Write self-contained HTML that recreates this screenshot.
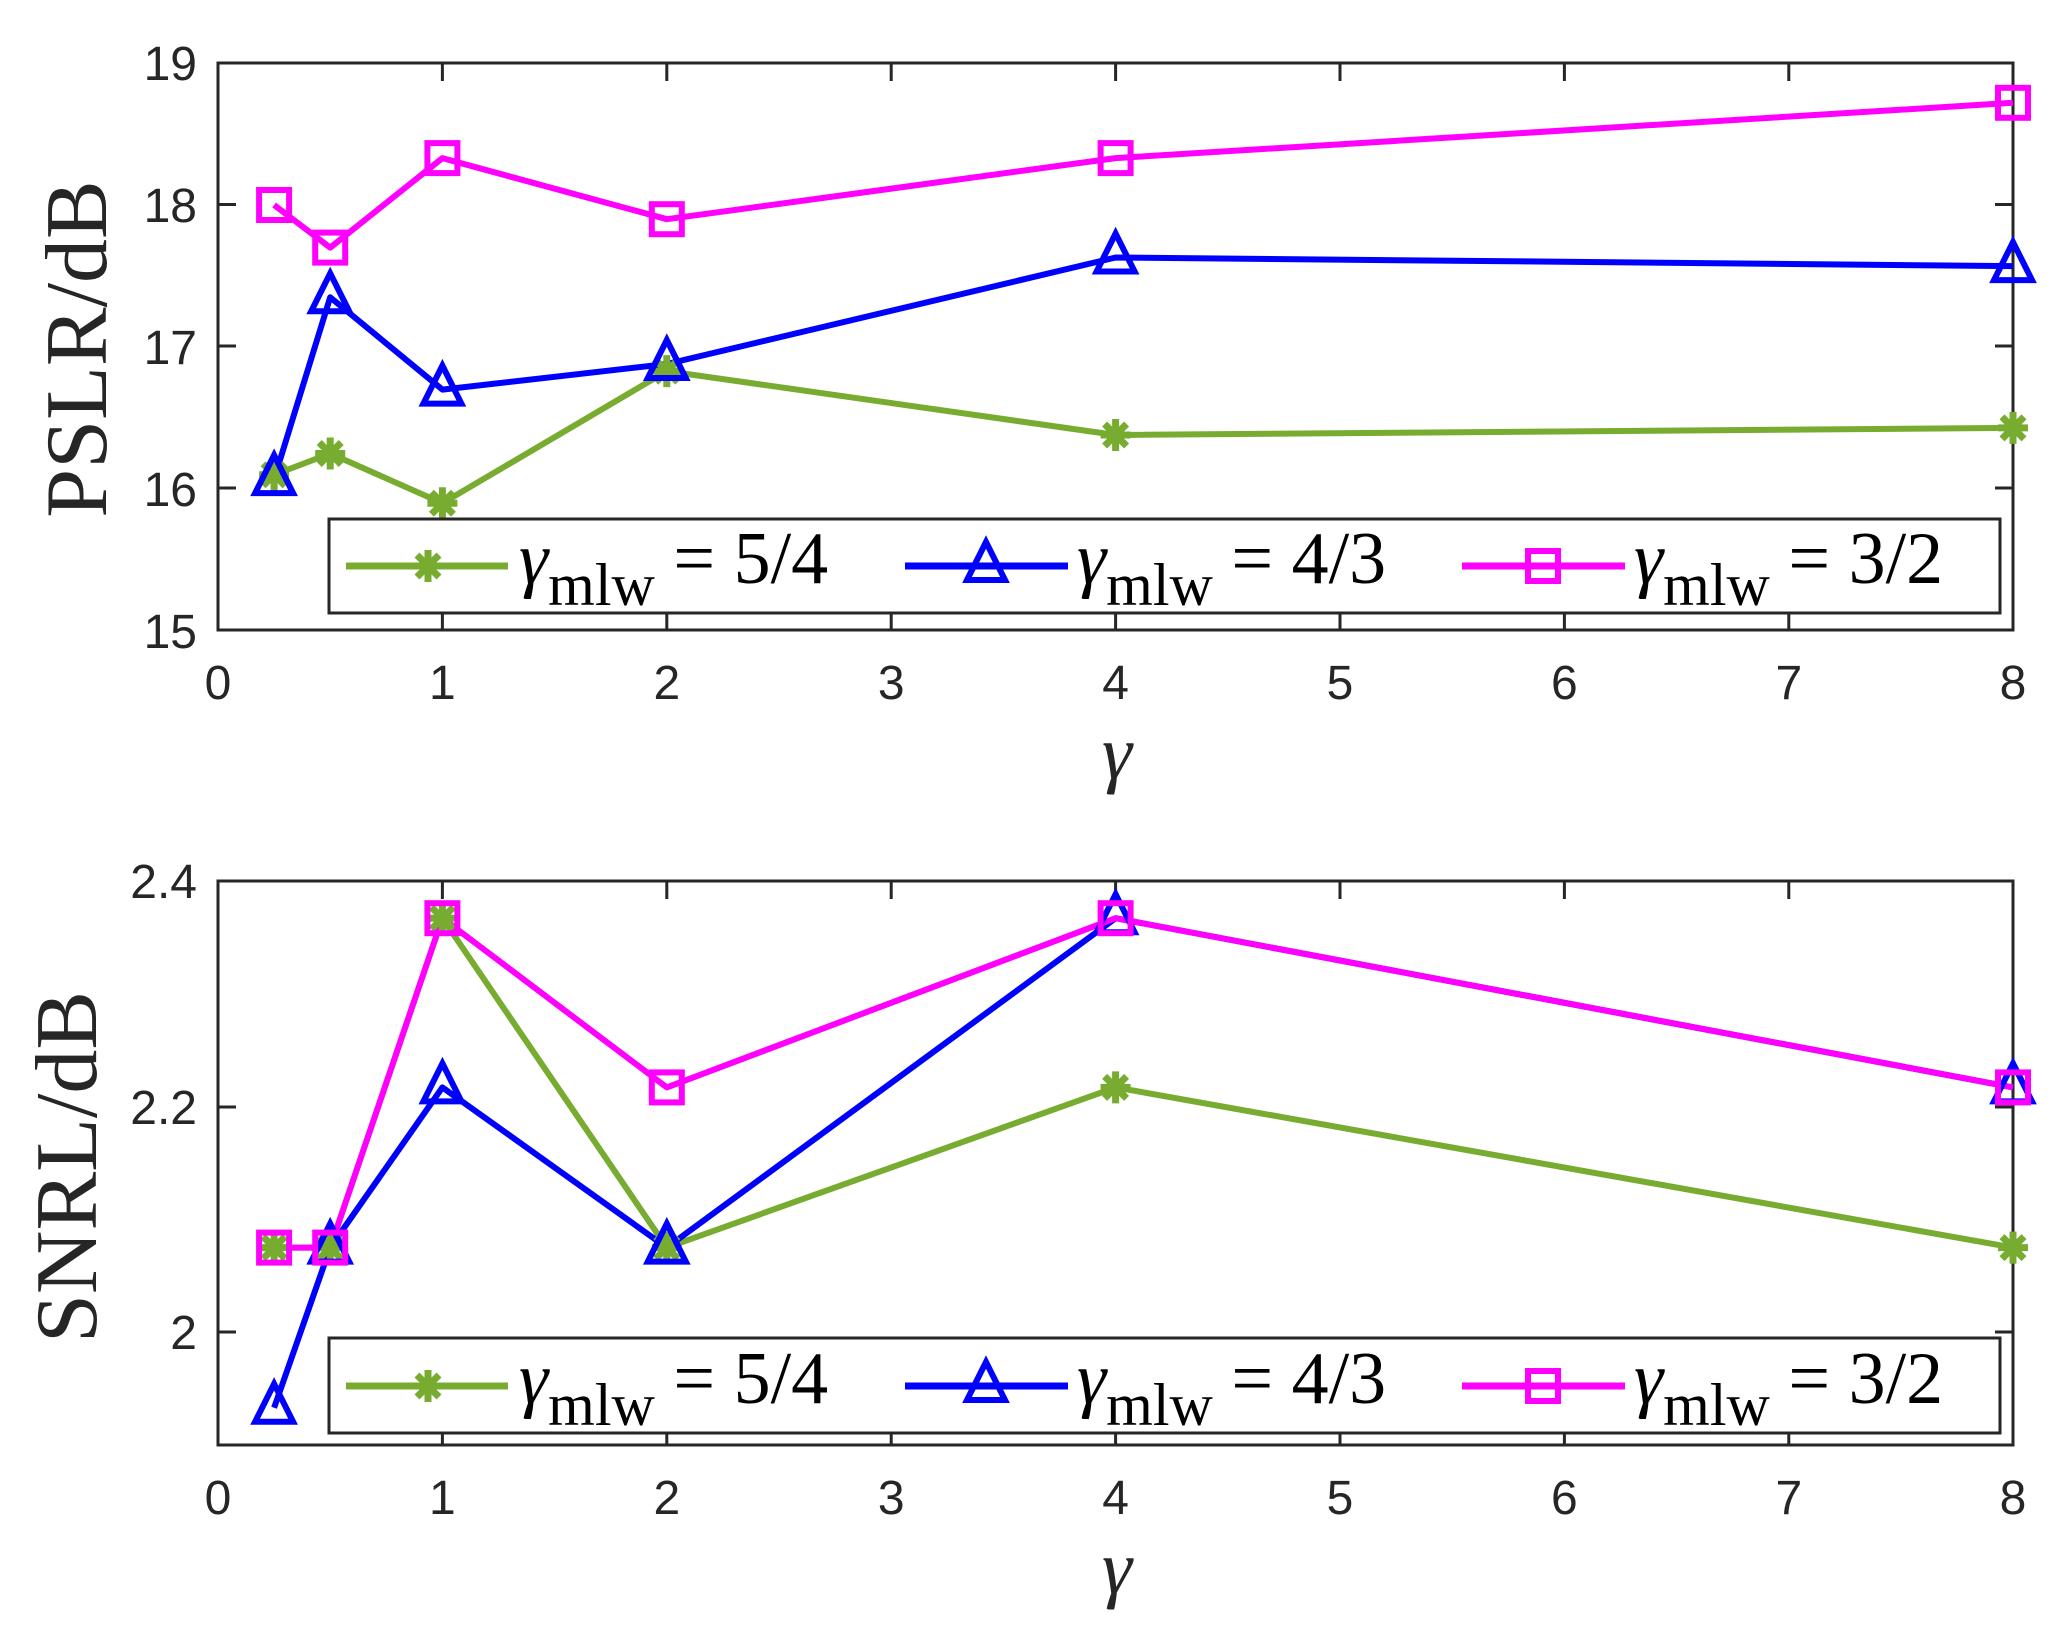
<!DOCTYPE html>
<html><head><meta charset="utf-8"><style>
html,body{margin:0;padding:0;background:#fff;}
svg{display:block;}
.tk{font-family:"Liberation Sans",sans-serif;font-size:48px;fill:#262626;}
.lab{font-family:"Liberation Serif",serif;fill:#262626;}
.lg{font-family:"Liberation Serif",serif;fill:#000;}
</style></head><body>
<svg width="2056" height="1635" viewBox="0 0 2056 1635" xmlns="http://www.w3.org/2000/svg">
<defs>
<g id="ast"><path d="M-15,0H15M0,-16V16M-11,-11L11,11M-11,11L11,-11" stroke="#77ac30" stroke-width="7" fill="none"/></g>
<g id="tri"><path d="M0,-24L19,14H-19Z" stroke="#0000ff" stroke-width="6" fill="none"/></g>
<g id="sq"><rect x="-15" y="-15" width="30" height="30" stroke="#ff00ff" stroke-width="6" fill="none"/></g>
</defs>

<!-- TOP AXES -->
<g stroke="#262626" stroke-width="3" fill="none">
<rect x="218" y="63" width="1795" height="567"/>
<path d="M442.4,630v-18M666.8,630v-18M891.2,630v-18M1115.6,630v-18M1340,630v-18M1564.4,630v-18M1788.8,630v-18
M442.4,63v18M666.8,63v18M891.2,63v18M1115.6,63v18M1340,63v18M1564.4,63v18M1788.8,63v18
M218,204.5h18M218,346h18M218,488h18M2013,204.5h-18M2013,346h-18M2013,488h-18"/>
</g>
<g class="tk" text-anchor="end">
<text x="197" y="80">19</text><text x="197" y="222">18</text><text x="197" y="364">17</text><text x="197" y="506">16</text><text x="197" y="648">15</text>
</g>
<g class="tk" text-anchor="middle">
<text x="218" y="699">0</text><text x="442.4" y="699">1</text><text x="666.8" y="699">2</text><text x="891.2" y="699">3</text><text x="1115.6" y="699">4</text><text x="1340" y="699">5</text><text x="1564.4" y="699">6</text><text x="1788.8" y="699">7</text><text x="2013" y="699">8</text>
</g>
<text class="lab" x="1117" y="778" font-size="76" font-style="italic" text-anchor="middle">γ</text>
<text class="lab" x="106" y="349" font-size="88" text-anchor="middle" transform="rotate(-90 106 349)">PSLR/dB</text>

<g fill="none" stroke-width="6" stroke-linejoin="round">
<polyline stroke="#77ac30" points="274.1,474.8 330.2,453.5 442.4,503.2 666.8,371.1 1115.6,435 2013,427.9"/>
<polyline stroke="#0000ff" points="274.1,479.1 330.2,297.3 442.4,389.6 666.8,364 1115.6,257.5 2013,266.1"/>
<polyline stroke="#ff00ff" points="274.1,205 330.2,247.6 442.4,158.1 666.8,219.2 1115.6,158.1 2013,102.8"/>
</g>
<use href="#ast" x="274.1" y="474.8"/><use href="#ast" x="330.2" y="453.5"/><use href="#ast" x="442.4" y="503.2"/><use href="#ast" x="666.8" y="371.1"/><use href="#ast" x="1115.6" y="435"/><use href="#ast" x="2013" y="427.9"/>
<use href="#tri" x="274.1" y="479.1"/><use href="#tri" x="330.2" y="297.3"/><use href="#tri" x="442.4" y="389.6"/><use href="#tri" x="666.8" y="364"/><use href="#tri" x="1115.6" y="257.5"/><use href="#tri" x="2013" y="266.1"/>
<use href="#sq" x="274.1" y="205"/><use href="#sq" x="330.2" y="247.6"/><use href="#sq" x="442.4" y="158.1"/><use href="#sq" x="666.8" y="219.2"/><use href="#sq" x="1115.6" y="158.1"/><use href="#sq" x="2013" y="102.8"/>

<!-- top legend -->
<rect x="329" y="519" width="1671" height="94" fill="#fff" stroke="#262626" stroke-width="3"/>
<path d="M346,566H508" stroke="#77ac30" stroke-width="7"/><use href="#ast" x="428" y="566"/>
<path d="M905,566H1068" stroke="#0000ff" stroke-width="7"/><use href="#tri" x="986" y="566"/>
<path d="M1462,566H1625" stroke="#ff00ff" stroke-width="7"/><use href="#sq" x="1543" y="566"/>
<text class="lg" x="519" y="583" font-size="74"><tspan font-style="italic">γ</tspan><tspan font-size="60" dy="22">mlw</tspan><tspan dy="-22"> = 5/4</tspan></text>
<text class="lg" x="1077" y="583" font-size="74"><tspan font-style="italic">γ</tspan><tspan font-size="60" dy="22">mlw</tspan><tspan dy="-22"> = 4/3</tspan></text>
<text class="lg" x="1634" y="583" font-size="74"><tspan font-style="italic">γ</tspan><tspan font-size="60" dy="22">mlw</tspan><tspan dy="-22"> = 3/2</tspan></text>

<!-- BOTTOM AXES -->
<g stroke="#262626" stroke-width="3" fill="none">
<rect x="218" y="881" width="1795" height="564"/>
<path d="M442.4,1445v-18M666.8,1445v-18M891.2,1445v-18M1115.6,1445v-18M1340,1445v-18M1564.4,1445v-18M1788.8,1445v-18
M442.4,881v18M666.8,881v18M891.2,881v18M1115.6,881v18M1340,881v18M1564.4,881v18M1788.8,881v18
M218,1107h18M218,1332h18M2013,1107h-18M2013,1332h-18"/>
</g>
<g class="tk" text-anchor="end">
<text x="197" y="898">2.4</text><text x="197" y="1124">2.2</text><text x="197" y="1349">2</text>
</g>
<g class="tk" text-anchor="middle">
<text x="218" y="1514">0</text><text x="442.4" y="1514">1</text><text x="666.8" y="1514">2</text><text x="891.2" y="1514">3</text><text x="1115.6" y="1514">4</text><text x="1340" y="1514">5</text><text x="1564.4" y="1514">6</text><text x="1788.8" y="1514">7</text><text x="2013" y="1514">8</text>
</g>
<text class="lab" x="1117" y="1593" font-size="76" font-style="italic" text-anchor="middle">γ</text>
<text class="lab" x="96" y="1167" font-size="88" text-anchor="middle" transform="rotate(-90 96 1167)">SNRL/dB</text>

<g fill="none" stroke-width="6" stroke-linejoin="round">
<polyline stroke="#77ac30" points="274.1,1247.6 330.2,1247.6 442.4,918.2 666.8,1247.6 1115.6,1087.4 2013,1247.6"/>
<polyline stroke="#0000ff" points="274.1,1407.8 330.2,1247.6 442.4,1087.4 666.8,1247.6 1115.6,918.2 2013,1087.4"/>
<polyline stroke="#ff00ff" points="274.1,1247.6 330.2,1247.6 442.4,918.2 666.8,1087.4 1115.6,918.2 2013,1087.4"/>
</g>
<use href="#ast" x="274.1" y="1247.6"/><use href="#ast" x="330.2" y="1247.6"/><use href="#ast" x="442.4" y="918.2"/><use href="#ast" x="666.8" y="1247.6"/><use href="#ast" x="1115.6" y="1087.4"/><use href="#ast" x="2013" y="1247.6"/>
<use href="#tri" x="274.1" y="1407.8"/><use href="#tri" x="330.2" y="1247.6"/><use href="#tri" x="442.4" y="1087.4"/><use href="#tri" x="666.8" y="1247.6"/><use href="#tri" x="1115.6" y="918.2"/><use href="#tri" x="2013" y="1087.4"/>
<use href="#sq" x="274.1" y="1247.6"/><use href="#sq" x="330.2" y="1247.6"/><use href="#sq" x="442.4" y="918.2"/><use href="#sq" x="666.8" y="1087.4"/><use href="#sq" x="1115.6" y="918.2"/><use href="#sq" x="2013" y="1087.4"/>

<!-- bottom legend -->
<rect x="329" y="1338" width="1671" height="95" fill="#fff" stroke="#262626" stroke-width="3"/>
<path d="M346,1386H508" stroke="#77ac30" stroke-width="7"/><use href="#ast" x="428" y="1386"/>
<path d="M905,1386H1068" stroke="#0000ff" stroke-width="7"/><use href="#tri" x="986" y="1386"/>
<path d="M1462,1386H1625" stroke="#ff00ff" stroke-width="7"/><use href="#sq" x="1543" y="1386"/>
<text class="lg" x="519" y="1403" font-size="74"><tspan font-style="italic">γ</tspan><tspan font-size="60" dy="22">mlw</tspan><tspan dy="-22"> = 5/4</tspan></text>
<text class="lg" x="1077" y="1403" font-size="74"><tspan font-style="italic">γ</tspan><tspan font-size="60" dy="22">mlw</tspan><tspan dy="-22"> = 4/3</tspan></text>
<text class="lg" x="1634" y="1403" font-size="74"><tspan font-style="italic">γ</tspan><tspan font-size="60" dy="22">mlw</tspan><tspan dy="-22"> = 3/2</tspan></text>
</svg>
</body></html>
